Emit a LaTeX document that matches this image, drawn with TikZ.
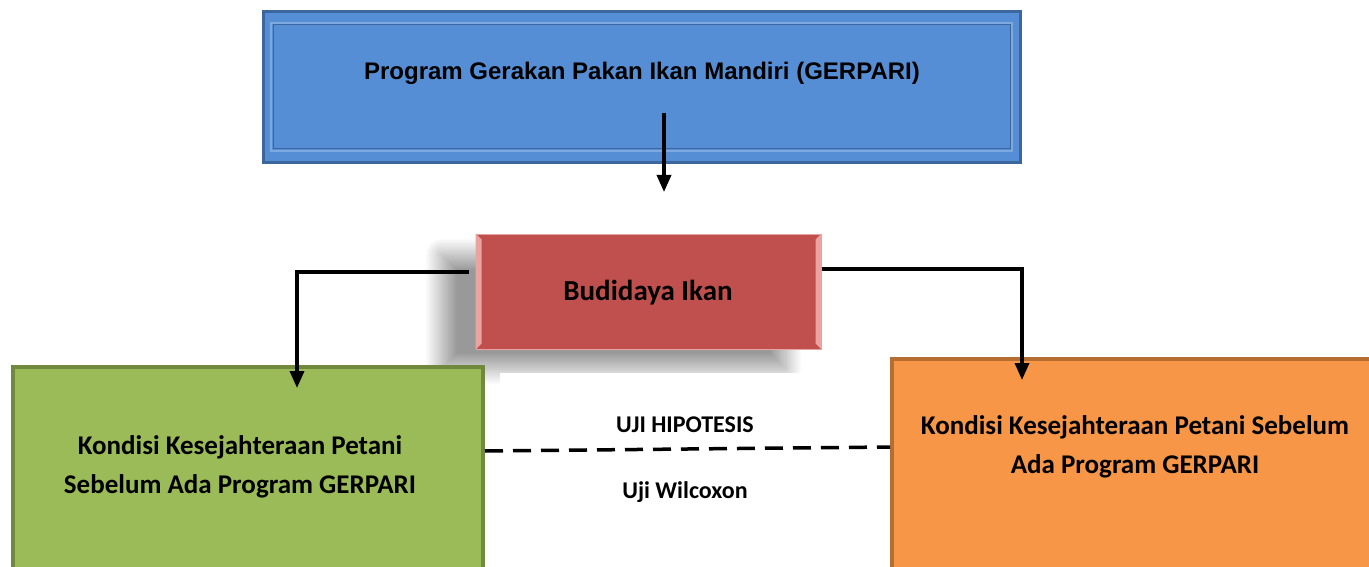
\documentclass[tikz,border=0pt]{standalone}
\usepackage{fontspec}
\setmainfont{Carlito}
\newfontfamily\arialfont{Liberation Sans}
\usetikzlibrary{arrows.meta,shadows.blur}
\definecolor{bluefill}{HTML}{558ED5}
\definecolor{blueedge}{HTML}{3C679E}
\definecolor{bluelight}{HTML}{7EA9DE}
\definecolor{redfill}{HTML}{C0504D}
\definecolor{redlight}{HTML}{EBA3A1}
\definecolor{greenfill}{HTML}{9BBB59}
\definecolor{greenedge}{HTML}{71893F}
\definecolor{orangefill}{HTML}{F79646}
\definecolor{orangeedge}{HTML}{B66D31}
\tikzset{
  box/.style={rectangle, inner sep=0pt, align=center},
  conn/.style={line width=3.5pt, black},
  arr/.style={conn, -{Triangle[width=14pt,length=17pt]}},
  lbl/.style={font=\bfseries\fontsize{24}{28}\selectfont, inner sep=0pt},
  kond/.style={font=\bfseries\fontsize{27}{39}\selectfont, align=center, inner sep=0pt}
}
\begin{document}
\begin{tikzpicture}[x=1pt,y=-1pt]
\useasboundingbox (0,0) rectangle (1369,567);
% top program box
\node[box, fill=bluefill, draw=blueedge, line width=3pt, minimum width=757pt, minimum height=151pt] (prog) at (641.5,87.5) {};
\draw[bluelight, line width=1.5pt] (271,23) rectangle (1012,151);
\draw[blueedge, line width=1pt] (273,25) rectangle (1010,149);
\node[font=\arialfont\bfseries\fontsize{24}{28}\selectfont, inner sep=0pt] (progt) at (642,73) {Program Gerakan Pakan Ikan Mandiri (GERPARI)};
% budidaya box with shadow
\node[box, fill=redfill, draw=redlight, line width=1pt, minimum width=345pt, minimum height=115pt,
  blur shadow={shadow xshift=-35pt, shadow yshift=-20pt, shadow blur radius=16pt, shadow blur steps=30, shadow opacity=40}] (bud) at (648.5,291.5) {};
\fill[redlight] (bud.north west) -- ++(6,6) -- ([xshift=6pt,yshift=6pt]bud.south west) -- (bud.south west) -- cycle;
\fill[redlight] (bud.north east) -- ++(-6,6) -- ([xshift=-6pt,yshift=6pt]bud.south east) -- (bud.south east) -- cycle;
\node[font=\bfseries\fontsize{29}{33}\selectfont, inner sep=0pt] (budt) at (648,293) {Budidaya Ikan};
% white text panel
\fill[white] (500,373) rectangle (890,580);
% green and orange boxes
\node[box, fill=greenfill, draw=greenedge, line width=4pt, minimum width=470pt, minimum height=230pt, anchor=north west] (green) at (11,365) {};
\node[box, fill=orangefill, draw=orangeedge, line width=4pt, minimum width=490pt, minimum height=230pt, anchor=north west] (orange) at (890,357) {};
\node[kond] (greent) at (240,467) {Kondisi Kesejahteraan Petani\\Sebelum Ada Program GERPARI};
\node[kond] (oranget) at (1135,447) {Kondisi Kesejahteraan Petani Sebelum\\Ada Program GERPARI};
% connectors
\coordinate (a0) at (664,113);
\coordinate (a1) at (664,192);
\draw[arr] (a0) -- (a1);
\coordinate (l0) at (469,272);
\coordinate (l1) at (297,388);
\draw[arr] (l0) -| (l1);
\coordinate (r1) at (1022,380);
\draw[arr] (bud.east |- 0,269) -| (r1);
\draw[conn, dash pattern=on 18pt off 10pt] (green.east |- 0,451) -- (orange.west |- 0,447);
% labels
\node[lbl] (uji) at (685,425) {UJI HIPOTESIS};
\node[lbl] (wil) at (685,492) {Uji Wilcoxon};
\end{tikzpicture}
\end{document}
